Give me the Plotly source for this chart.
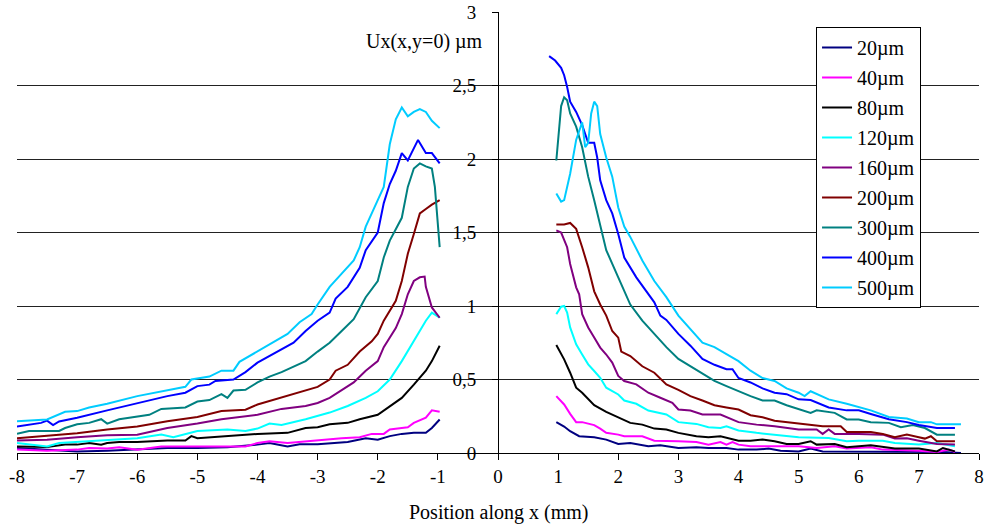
import plotly.graph_objects as go

# ---------------- data ----------------
LABELS = ["20µm", "40µm", "80µm", "120µm", "160µm", "200µm", "300µm", "400µm", "500µm"]
COLORS = ["#000080", "#FF00FF", "#000000", "#00FFFF", "#800080", "#800000", "#008080", "#0000FF", "#00CCFF"]

# 20 µm
X20L = [-8, -7.5, -7, -6.5, -6, -5.5, -5, -4.5, -4, -3.8, -3.5, -3.3, -3, -2.5, -2.2, -2.0, -1.8, -1.6, -1.4, -1.2, -1.1, -0.97]
Y20L = [0.034, 0.023, 0.011, 0.016, 0.023, 0.034, 0.034, 0.039, 0.057, 0.068, 0.045, 0.06, 0.06, 0.075, 0.10, 0.09, 0.115, 0.13, 0.137, 0.137, 0.17, 0.228]
X20R = [0.97, 1.1, 1.2, 1.35, 1.6, 1.8, 2.0, 2.2, 2.5, 2.7, 3.0, 3.3, 3.5, 3.8, 4.0, 4.3, 4.5, 4.7, 5.0, 5.2, 5.4, 6.0, 6.4, 7.0, 7.4, 7.7]
Y20R = [0.21, 0.18, 0.148, 0.114, 0.107, 0.091, 0.061, 0.068, 0.046, 0.052, 0.034, 0.039, 0.034, 0.034, 0.023, 0.023, 0.03, 0.016, 0.011, 0.03, 0.011, 0.011, 0.011, 0.007, 0.007, 0.0]

# 40 µm
X40L = [-8, -7.5, -7, -6.8, -6.5, -6.3, -6, -5.6, -5, -4.5, -4.2, -4, -3.8, -3.5, -3.2, -3.0, -2.6, -2.3, -2.1, -1.9, -1.8, -1.6, -1.5, -1.4, -1.2, -1.1, -0.97]
Y40L = [0.023, 0.016, 0.023, 0.034, 0.03, 0.039, 0.023, 0.045, 0.045, 0.045, 0.045, 0.068, 0.08, 0.068, 0.08, 0.085, 0.10, 0.107, 0.13, 0.13, 0.16, 0.17, 0.175, 0.205, 0.24, 0.29, 0.28]
X40R = [0.97, 1.1, 1.2, 1.3, 1.4, 1.6, 1.7, 1.8, 2.0, 2.1, 2.4, 2.6, 3.0, 3.3, 3.5, 3.6, 3.7, 3.8, 3.9, 4.0, 4.2, 4.6, 5.0, 5.3, 5.6, 5.8, 6.2, 6.4, 7.0, 7.3, 7.5, 7.6]
Y40R = [0.387, 0.33, 0.266, 0.21, 0.21, 0.19, 0.166, 0.137, 0.125, 0.114, 0.114, 0.084, 0.08, 0.075, 0.057, 0.068, 0.075, 0.057, 0.075, 0.057, 0.046, 0.046, 0.046, 0.034, 0.046, 0.03, 0.039, 0.023, 0.016, 0.007, 0.023, 0.007]

# 80 µm
X80L = [-8, -7.5, -7.2, -7, -6.8, -6.6, -6.5, -6.3, -6, -5.5, -5.2, -5.1, -5, -4.5, -4, -3.5, -3.2, -3, -2.8, -2.5, -2.3, -2.0, -1.8, -1.6, -1.4, -1.2, -1.1, -0.97]
Y80L = [0.045, 0.04, 0.057, 0.057, 0.068, 0.057, 0.068, 0.075, 0.075, 0.085, 0.085, 0.115, 0.10, 0.115, 0.13, 0.137, 0.17, 0.175, 0.195, 0.205, 0.23, 0.26, 0.32, 0.375, 0.465, 0.56, 0.625, 0.73]
X80R = [0.97, 1.1, 1.2, 1.3, 1.4, 1.5, 1.6, 1.8, 2.0, 2.2, 2.4, 2.6, 2.8, 3.0, 3.3, 3.5, 3.7, 4.0, 4.2, 4.4, 4.6, 4.8, 5.0, 5.2, 5.3, 5.6, 5.8, 6.2, 6.6, 7.0, 7.3, 7.4, 7.6]
Y80R = [0.735, 0.637, 0.546, 0.444, 0.41, 0.364, 0.325, 0.28, 0.244, 0.205, 0.193, 0.166, 0.16, 0.137, 0.114, 0.107, 0.114, 0.084, 0.084, 0.091, 0.08, 0.061, 0.061, 0.08, 0.057, 0.061, 0.039, 0.052, 0.03, 0.03, 0.011, 0.034, 0.011]

# 120 µm
X120L = [-8, -7.8, -7.5, -7.3, -7, -6.5, -6, -5.6, -5.4, -5, -4.5, -4.2, -4, -3.8, -3.6, -3.2, -3, -2.8, -2.5, -2.2, -2.0, -1.8, -1.6, -1.4, -1.2, -1.1, -0.97]
Y120L = [0.068, 0.06, 0.045, 0.068, 0.075, 0.085, 0.10, 0.125, 0.107, 0.15, 0.16, 0.15, 0.166, 0.20, 0.19, 0.23, 0.25, 0.275, 0.32, 0.375, 0.42, 0.50, 0.625, 0.76, 0.90, 0.955, 0.92]
X120R = [0.97, 1.05, 1.1, 1.15, 1.2, 1.3, 1.4, 1.5, 1.6, 1.7, 1.8, 2.0, 2.1, 2.3, 2.5, 2.8, 3.0, 3.3, 3.5, 3.7, 3.8, 4.0, 4.3, 4.6, 5.0, 5.5, 5.8, 6.0, 6.4, 6.6, 7.0, 7.3, 7.6]
Y120R = [0.945, 0.995, 1.00, 0.956, 0.854, 0.74, 0.67, 0.603, 0.558, 0.512, 0.444, 0.398, 0.357, 0.335, 0.289, 0.262, 0.21, 0.198, 0.175, 0.17, 0.182, 0.153, 0.137, 0.125, 0.107, 0.102, 0.08, 0.084, 0.084, 0.068, 0.057, 0.068, 0.046]

# 160 µm
X160L = [-8, -7.5, -7, -6.5, -6, -5.5, -5, -4.6, -4, -3.6, -3.2, -3, -2.8, -2.6, -2.4, -2.2, -2.0, -1.9, -1.7, -1.6, -1.5, -1.4, -1.3, -1.22, -1.2, -1.1, -0.97]
Y160L = [0.085, 0.09, 0.107, 0.12, 0.125, 0.17, 0.20, 0.23, 0.26, 0.30, 0.32, 0.34, 0.375, 0.43, 0.48, 0.56, 0.625, 0.72, 0.85, 0.945, 1.08, 1.17, 1.195, 1.2, 1.13, 0.99, 0.92]
X160R = [0.97, 1.05, 1.15, 1.2, 1.3, 1.35, 1.4, 1.5, 1.6, 1.7, 1.8, 1.9, 2.0, 2.1, 2.3, 2.5, 2.7, 2.9, 3.0, 3.2, 3.4, 3.7, 4.0, 4.3, 4.6, 5.0, 5.3, 5.4, 5.5, 5.6, 6.0, 6.4, 6.6, 6.8, 7.0, 7.3, 7.6]
Y160R = [1.514, 1.50, 1.40, 1.286, 1.127, 1.08, 0.945, 0.854, 0.785, 0.717, 0.67, 0.615, 0.524, 0.49, 0.467, 0.41, 0.376, 0.341, 0.296, 0.289, 0.262, 0.262, 0.21, 0.193, 0.182, 0.16, 0.16, 0.13, 0.16, 0.13, 0.13, 0.125, 0.098, 0.10, 0.084, 0.061, 0.057]

# 200 µm
X200L = [-8, -7.5, -7, -6.5, -6.2, -6, -5.5, -5, -4.6, -4.2, -4, -3.6, -3.2, -3, -2.8, -2.7, -2.5, -2.3, -2.1, -2.0, -1.9, -1.7, -1.6, -1.5, -1.4, -1.3, -1.2, -1.1, -0.97]
Y200L = [0.10, 0.115, 0.135, 0.16, 0.17, 0.18, 0.216, 0.245, 0.285, 0.295, 0.33, 0.38, 0.425, 0.45, 0.50, 0.56, 0.60, 0.69, 0.76, 0.81, 0.90, 1.035, 1.17, 1.355, 1.49, 1.63, 1.66, 1.69, 1.72]
X200R = [0.97, 1.1, 1.2, 1.3, 1.4, 1.5, 1.6, 1.7, 1.8, 1.9, 2.0, 2.05, 2.2, 2.4, 2.6, 2.8, 3.0, 3.2, 3.4, 3.6, 3.8, 4.0, 4.2, 4.4, 4.6, 4.8, 5.0, 5.2, 5.4, 5.7, 5.8, 6.2, 6.4, 6.6, 6.8, 7.0, 7.1, 7.2, 7.3, 7.6]
Y200R = [1.555, 1.555, 1.565, 1.525, 1.40, 1.263, 1.10, 1.01, 0.935, 0.83, 0.785, 0.69, 0.66, 0.59, 0.546, 0.467, 0.43, 0.387, 0.357, 0.325, 0.31, 0.296, 0.257, 0.243, 0.22, 0.21, 0.198, 0.193, 0.182, 0.182, 0.143, 0.143, 0.13, 0.107, 0.125, 0.107, 0.098, 0.114, 0.08, 0.08]

# 300 µm
X300L = [-8, -7.8, -7.3, -7.2, -7, -6.8, -6.6, -6.5, -6.3, -6, -5.8, -5.6, -5.2, -5, -4.8, -4.6, -4.5, -4.4, -4.2, -4, -3.8, -3.6, -3.4, -3.2, -3.0, -2.8, -2.6, -2.4, -2.2, -2.0, -1.9, -1.8, -1.6, -1.5, -1.4, -1.3, -1.2, -1.1, -1.05, -0.97]
Y300L = [0.13, 0.15, 0.15, 0.17, 0.195, 0.205, 0.23, 0.20, 0.23, 0.25, 0.26, 0.30, 0.31, 0.35, 0.36, 0.40, 0.375, 0.425, 0.43, 0.48, 0.52, 0.55, 0.59, 0.625, 0.69, 0.75, 0.83, 0.91, 1.06, 1.17, 1.33, 1.445, 1.60, 1.81, 1.935, 1.97, 1.95, 1.935, 1.81, 1.40]
X300R = [0.97, 1.0, 1.05, 1.1, 1.15, 1.2, 1.3, 1.4, 1.5, 1.6, 1.7, 1.8, 2.0, 2.1, 2.2, 2.4, 2.6, 2.8, 3.0, 3.2, 3.4, 3.6, 3.8, 4.0, 4.2, 4.4, 4.6, 4.8, 5.0, 5.2, 5.3, 5.6, 5.8, 6.0, 6.2, 6.5, 6.7, 6.9, 7.1, 7.3, 7.6]
Y300R = [1.99, 2.13, 2.36, 2.42, 2.40, 2.31, 2.22, 2.08, 1.88, 1.72, 1.54, 1.38, 1.195, 1.10, 1.01, 0.90, 0.81, 0.72, 0.64, 0.59, 0.535, 0.49, 0.455, 0.42, 0.387, 0.357, 0.357, 0.325, 0.30, 0.273, 0.29, 0.273, 0.228, 0.228, 0.21, 0.205, 0.175, 0.19, 0.17, 0.125, 0.125]

# 400 µm
X400L = [-8, -7.6, -7.5, -7.4, -7.3, -7, -6.5, -6, -5.5, -5.2, -5, -4.8, -4.7, -4.4, -4.2, -4, -3.8, -3.6, -3.4, -3.2, -3.0, -2.8, -2.7, -2.5, -2.3, -2.2, -2.0, -1.9, -1.8, -1.7, -1.6, -1.5, -1.4, -1.33, -1.2, -1.1, -0.97]
Y400L = [0.18, 0.205, 0.22, 0.19, 0.215, 0.24, 0.29, 0.34, 0.387, 0.41, 0.455, 0.465, 0.49, 0.50, 0.55, 0.615, 0.66, 0.705, 0.75, 0.83, 0.90, 0.955, 1.05, 1.13, 1.26, 1.38, 1.50, 1.70, 1.83, 1.92, 2.04, 1.99, 2.07, 2.13, 2.04, 2.04, 1.97]
X400R = [0.85, 0.95, 1.05, 1.1, 1.15, 1.2, 1.3, 1.4, 1.5, 1.6, 1.65, 1.7, 1.8, 1.9, 2.0, 2.1, 2.3, 2.5, 2.6, 2.7, 2.8, 3.0, 3.2, 3.4, 3.6, 3.8, 3.9, 4.0, 4.2, 4.4, 4.6, 4.8, 5.0, 5.2, 5.5, 5.8, 6.0, 6.2, 6.5, 6.8, 7.0, 7.3, 7.6]
Y400R = [2.70, 2.67, 2.62, 2.57, 2.49, 2.39, 2.32, 2.23, 2.11, 2.11, 2.01, 1.855, 1.72, 1.63, 1.49, 1.33, 1.195, 1.08, 1.025, 0.935, 0.905, 0.81, 0.73, 0.64, 0.60, 0.57, 0.57, 0.51, 0.48, 0.44, 0.41, 0.40, 0.365, 0.36, 0.31, 0.29, 0.29, 0.265, 0.23, 0.21, 0.19, 0.17, 0.17]

# 500 µm
X500L = [-8, -7.5, -7.2, -7, -6.8, -6.5, -6, -5.5, -5.2, -5.1, -4.8, -4.6, -4.4, -4.3, -4, -3.7, -3.5, -3.3, -3.1, -3, -2.8, -2.6, -2.4, -2.3, -2.2, -2.0, -1.9, -1.8, -1.7, -1.6, -1.5, -1.4, -1.3, -1.2, -1.1, -0.97]
Y500L = [0.216, 0.228, 0.28, 0.285, 0.31, 0.335, 0.387, 0.425, 0.45, 0.50, 0.52, 0.56, 0.56, 0.62, 0.69, 0.76, 0.81, 0.89, 0.945, 1.01, 1.13, 1.22, 1.31, 1.40, 1.54, 1.72, 1.81, 2.10, 2.27, 2.35, 2.29, 2.32, 2.34, 2.32, 2.26, 2.21]
X500R = [0.97, 1.05, 1.1, 1.2, 1.3, 1.4, 1.45, 1.5, 1.55, 1.6, 1.65, 1.7, 1.8, 1.9, 2.0, 2.1, 2.2, 2.4, 2.6, 2.8, 3.0, 3.2, 3.4, 3.6, 3.8, 4.0, 4.2, 4.4, 4.6, 4.8, 5.0, 5.1, 5.2, 5.5, 5.8, 6.0, 6.2, 6.5, 6.8, 7.0, 7.2, 7.3, 7.7]
Y500R = [1.765, 1.71, 1.72, 1.90, 2.13, 2.25, 2.08, 2.11, 2.31, 2.39, 2.36, 2.17, 2.01, 1.88, 1.67, 1.54, 1.47, 1.31, 1.17, 1.06, 0.935, 0.84, 0.75, 0.72, 0.67, 0.625, 0.56, 0.51, 0.49, 0.44, 0.41, 0.387, 0.42, 0.365, 0.335, 0.31, 0.29, 0.245, 0.235, 0.21, 0.21, 0.195, 0.195]

SERIES = [
    (X20L, Y20L, X20R, Y20R),
    (X40L, Y40L, X40R, Y40R),
    (X80L, Y80L, X80R, Y80R),
    (X120L, Y120L, X120R, Y120R),
    (X160L, Y160L, X160R, Y160R),
    (X200L, Y200L, X200R, Y200R),
    (X300L, Y300L, X300R, Y300R),
    (X400L, Y400L, X400R, Y400R),
    (X500L, Y500L, X500R, Y500R),
]

X_TICKS = [-8, -7, -6, -5, -4, -3, -2, -1, 0, 1, 2, 3, 4, 5, 6, 7, 8]
Y_TICKS = [0, 0.5, 1, 1.5, 2, 2.5, 3]
Y_TICK_TEXT = ["0", "0,5", "1", "1,5", "2", "2,5", "3"]

FONT = "Liberation Serif, Times New Roman, serif"

fig = go.Figure()
for i, (xl, yl, xr, yr) in enumerate(SERIES):
    fig.add_trace(go.Scatter(
        x=list(xl) + [None] + list(xr),
        y=list(yl) + [None] + list(yr),
        mode="lines",
        name=LABELS[i],
        legendgroup=LABELS[i],
        line=dict(color=COLORS[i], width=2),
        connectgaps=False,
    ))

fig.update_layout(
    width=1003, height=525,
    margin=dict(l=17, r=24, t=12, b=72, autoexpand=False),
    paper_bgcolor="white", plot_bgcolor="white",
    font=dict(family=FONT, size=19, color="black"),
    showlegend=True,
    legend=dict(
        x=0.8306, y=0.966, xanchor="left", yanchor="top",
        bgcolor="white", bordercolor="black", borderwidth=1,
        font=dict(family=FONT, size=20, color="black"),
        tracegroupgap=1,
        itemwidth=30,
        entrywidth=70, entrywidthmode="pixels",
    ),
    xaxis=dict(
        range=[-8, 8], tickvals=X_TICKS, ticktext=[str(v) for v in X_TICKS],
        showgrid=False, zeroline=False,
        showline=True, linecolor="black", linewidth=1,
        ticks="outside", ticklen=6, tickcolor="black",
        anchor="y", automargin=False,
        tickfont=dict(family=FONT, size=19),
    ),
    yaxis=dict(
        range=[0, 3], tickvals=Y_TICKS, ticktext=Y_TICK_TEXT,
        showgrid=True, gridcolor="#222222", gridwidth=1,
        zeroline=False,
        showline=True, linecolor="black", linewidth=1,
        ticks="outside", ticklen=6, tickcolor="black",
        anchor="free", position=0.5, automargin=False,
        ticklabelstandoff=12,
        tickfont=dict(family=FONT, size=19),
    ),
    annotations=[
        dict(text="Ux(x,y=0) µm", xref="paper", yref="paper", x=0.4865, y=0.932,
             xanchor="right", yanchor="middle", showarrow=False,
             font=dict(family=FONT, size=20, color="black")),
        dict(text="Position along x (mm)", xref="paper", yref="paper", x=0.5, y=-0.1338,
             xanchor="center", yanchor="middle", showarrow=False,
             font=dict(family=FONT, size=20, color="black")),
    ],
)

fig.write_html("out.html", config={"displayModeBar": False},
               post_script="document.body.style.margin='0px';")
